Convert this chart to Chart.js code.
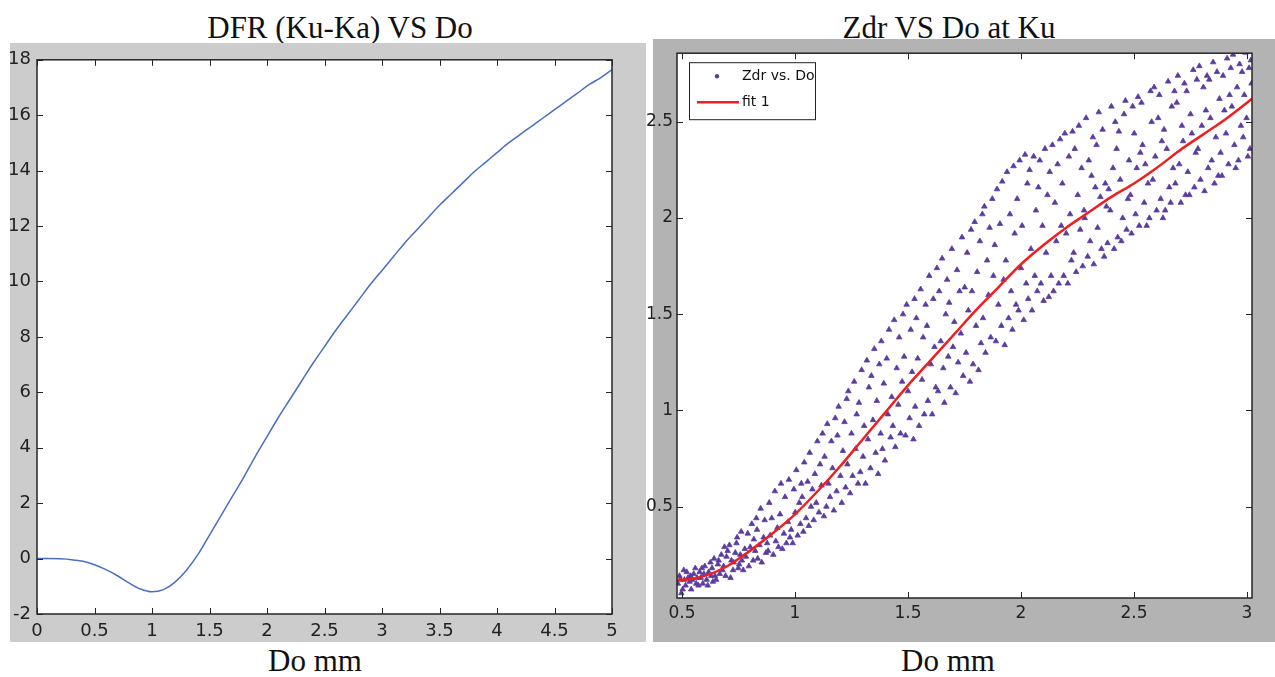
<html>
<head>
    <script src="https://cdn.jsdelivr.net/npm/chart.js@4.4.0/dist/chart.umd.min.js"></script>
    <style>
        body {
            margin: 0;
            background: #ffffff;
            width: 1275px;
            height: 677px;
            position: relative;
            overflow: hidden;
        }

        .titolo {
            position: absolute;
            font-family: 'Liberation Serif', 'Times New Roman', serif;
            font-size: 31px;
            line-height: 31px;
            color: #111;
            white-space: nowrap;
            transform: translateX(-50%);
        }

        .pannello {
            position: absolute;
        }

        .sinistra {
            left: 10px;
            top: 43px;
            width: 636px;
            height: 599px;
            background: #cccccc;
        }

        .destra {
            left: 653px;
            top: 39px;
            width: 622px;
            height: 603px;
            background: #b3b3b3;
        }

        #zdrChart {
            position: absolute;
            left: -10px;
            top: 0;
        }
    </style>
</head>

<body>
    <div class="titolo" style="left:340px; top:12px;">DFR (Ku-Ka) VS Do</div>
    <div class="titolo" style="left:949px; top:12px;">Zdr VS Do at Ku</div>

    <div class="pannello sinistra"><canvas id="dfrChart" width="636" height="599"></canvas></div>
    <div class="pannello destra"><canvas id="zdrChart" width="632" height="603"></canvas></div>

    <div class="titolo" style="left:315px; top:645px;">Do mm</div>
    <div class="titolo" style="left:948px; top:645px;">Do mm</div>
</body>
<script>
    // DFR (Ku-Ka) vs Do
    const dfrDo = [0, 0.1, 0.2, 0.3, 0.4, 0.5, 0.6, 0.7, 0.8, 0.9, 1.0, 1.1, 1.2, 1.3, 1.4, 1.5, 1.6, 1.7, 1.8, 1.9,
        2.0, 2.1, 2.2, 2.3, 2.4, 2.5, 2.6, 2.7, 2.8, 2.9, 3.0, 3.1, 3.2, 3.3, 3.4, 3.5, 3.6, 3.7, 3.8, 3.9,
        4.0, 4.1, 4.2, 4.3, 4.4, 4.5, 4.6, 4.7, 4.8, 4.9, 5.0];
    const dfrVal = [0, 0, -0.01, -0.04, -0.1, -0.22, -0.4, -0.62, -0.88, -1.1, -1.2, -1.12, -0.85, -0.42, 0.15, 0.85, 1.55, 2.25, 2.95, 3.7,
        4.4, 5.1, 5.75, 6.4, 7.05, 7.65, 8.25, 8.8, 9.35, 9.9, 10.4, 10.9, 11.4, 11.85, 12.3, 12.75, 13.15, 13.55, 13.95, 14.3,
        14.65, 15.0, 15.3, 15.6, 15.9, 16.2, 16.5, 16.8, 17.1, 17.35, 17.65];
    const dfrTickX = [0, 0.5, 1, 1.5, 2, 2.5, 3, 3.5, 4, 4.5, 5];
    const dfrTickY = [-2, 0, 2, 4, 6, 8, 10, 12, 14, 16, 18];

    // Zdr vs Do at Ku
    const zdrPunti = [
        [0.482,0.10],[0.497,0.05],[0.489,0.14],[0.511,0.12],[0.503,0.07],[0.521,0.16],[0.516,0.09],[0.527,0.13],[0.493,0.12],[0.508,0.17],
        [0.534,0.11],[0.552,0.15],[0.541,0.07],[0.567,0.13],[0.559,0.18],[0.546,0.12],[0.573,0.09],[0.578,0.16],[0.538,0.14],[0.563,0.10],
        [0.583,0.13],[0.601,0.19],[0.592,0.10],[0.618,0.16],[0.609,0.12],[0.626,0.21],[0.597,0.15],[0.614,0.09],[0.629,0.14],[0.588,0.18],
        [0.633,0.18],[0.651,0.12],[0.642,0.23],[0.667,0.15],[0.659,0.20],[0.674,0.25],[0.646,0.14],[0.679,0.17],[0.637,0.11],[0.662,0.22],
        [0.684,0.19],[0.702,0.27],[0.693,0.14],[0.719,0.22],[0.710,0.30],[0.726,0.17],[0.697,0.24],[0.715,0.13],[0.688,0.29],[0.729,0.21],
        [0.736,0.26],[0.749,0.18],[0.744,0.34],[0.765,0.22],[0.762,0.37],[0.778,0.28],[0.753,0.20],[0.771,0.17],[0.741,0.31],[0.758,0.25],
        [0.783,0.24],[0.791,0.36],[0.796,0.19],[0.802,0.29],[0.809,0.41],[0.815,0.22],[0.818,0.33],[0.824,0.27],[0.829,0.44],
        [0.832,0.38],[0.835,0.23],[0.843,0.30],[0.848,0.49],[0.853,0.21],[0.861,0.34],[0.866,0.43],[0.872,0.26],[0.877,0.31],
        [0.881,0.27],[0.886,0.52],[0.890,0.35],[0.897,0.44],[0.904,0.25],[0.911,0.58],[0.915,0.32],[0.922,0.39],[0.927,0.29],
        [0.934,0.46],[0.938,0.62],[0.944,0.28],[0.951,0.36],[0.956,0.55],[0.962,0.31],[0.969,0.42],[0.973,0.64],[0.978,0.34],
        [0.983,0.38],[0.990,0.31],[0.995,0.59],[1.001,0.47],[1.006,0.69],[1.012,0.35],[1.019,0.52],[1.024,0.41],[1.028,0.62],
        [1.032,0.55],[1.037,0.37],[1.041,0.73],[1.049,0.44],[1.056,0.63],[1.061,0.40],[1.065,0.78],[1.071,0.50],[1.077,0.59],
        [1.083,0.43],[1.088,0.67],[1.094,0.52],[1.099,0.84],[1.106,0.47],[1.111,0.72],[1.117,0.61],[1.122,0.88],[1.128,0.45],
        [1.131,0.76],[1.139,0.50],[1.143,0.93],[1.148,0.62],[1.155,0.55],[1.161,0.84],[1.166,0.70],[1.172,0.48],[1.178,0.96],
        [1.184,0.58],[1.188,0.87],[1.193,1.02],[1.201,0.66],[1.207,0.52],[1.212,0.79],[1.219,0.94],[1.224,0.60],[1.229,1.06],
        [1.232,0.72],[1.236,1.10],[1.244,0.57],[1.250,0.88],[1.255,0.66],[1.262,1.15],[1.268,0.80],[1.273,0.98],[1.279,0.62],
        [1.283,1.04],[1.289,0.68],[1.295,1.21],[1.301,0.76],[1.306,0.92],[1.312,0.62],[1.318,1.26],[1.323,0.85],[1.327,1.12],
        [1.334,0.70],[1.338,1.18],[1.345,0.95],[1.351,1.32],[1.357,0.78],[1.362,1.05],[1.368,0.67],[1.373,1.24],[1.379,0.88],
        [1.382,1.36],[1.387,0.80],[1.393,1.14],[1.398,0.74],[1.406,1.27],[1.411,0.98],[1.416,1.42],[1.423,0.86],[1.428,1.07],
        [1.433,0.92],[1.439,1.47],[1.444,0.81],[1.450,1.22],[1.457,1.03],[1.461,1.38],[1.467,0.88],[1.474,1.15],[1.478,1.50],
        [1.483,1.28],[1.489,0.87],[1.494,1.55],[1.500,1.10],[1.507,0.96],[1.512,1.42],[1.518,1.20],[1.524,0.85],[1.529,1.58],
        [1.532,1.02],[1.537,1.48],[1.543,1.27],[1.549,0.92],[1.556,1.63],[1.562,1.16],[1.567,1.38],[1.572,0.98],[1.578,1.55],
        [1.584,1.44],[1.588,1.05],[1.594,1.70],[1.601,1.24],[1.607,0.98],[1.612,1.58],[1.617,1.33],[1.623,1.12],[1.628,1.74],
        [1.633,1.10],[1.638,1.62],[1.645,1.36],[1.651,1.79],[1.656,1.22],[1.661,1.04],[1.667,1.50],[1.673,1.68],[1.678,1.28],
        [1.682,1.56],[1.688,1.12],[1.694,1.84],[1.699,1.33],[1.705,1.46],[1.711,1.09],[1.717,1.73],[1.722,1.25],[1.728,1.62],
        [1.734,1.40],[1.739,1.90],[1.744,1.18],[1.751,1.64],[1.757,1.30],[1.762,1.82],[1.767,1.52],[1.774,1.15],[1.779,1.94],
        [1.783,1.62],[1.788,1.24],[1.795,1.98],[1.801,1.44],[1.806,1.72],[1.812,1.21],[1.818,1.88],[1.823,1.35],[1.829,2.02],
        [1.832,1.48],[1.838,2.06],[1.843,1.30],[1.850,1.78],[1.856,1.60],[1.861,1.95],[1.866,1.38],[1.873,2.10],[1.878,1.70],
        [1.884,1.86],[1.889,1.36],[1.894,2.15],[1.900,1.55],[1.907,1.97],[1.913,1.44],[1.917,2.19],[1.923,1.68],[1.928,1.34],
        [1.933,1.78],[1.938,2.24],[1.945,1.48],[1.951,2.02],[1.956,1.62],[1.962,1.42],[1.967,2.27],[1.972,1.92],[1.978,1.55],
        [1.983,2.10],[1.989,1.52],[1.994,2.30],[2.000,1.74],[2.005,1.96],[2.012,1.47],[2.018,2.33],[2.023,1.66],[2.028,2.18],
        [2.032,1.58],[2.038,2.25],[2.044,1.84],[2.049,1.52],[2.056,2.32],[2.061,1.70],[2.066,2.04],[2.072,1.62],[2.077,2.16],
        [2.083,2.30],[2.088,1.66],[2.095,1.96],[2.100,1.57],[2.106,2.36],[2.111,1.82],[2.117,2.12],[2.123,1.59],[2.127,2.24],
        [2.133,1.70],[2.139,2.38],[2.144,1.62],[2.150,2.08],[2.156,1.88],[2.162,2.28],[2.167,1.66],[2.173,2.41],[2.178,1.96],
        [2.183,2.18],[2.189,1.70],[2.194,2.44],[2.200,1.92],[2.207,1.66],[2.212,2.32],[2.217,2.02],[2.223,1.78],[2.228,2.45],
        [2.233,1.82],[2.238,2.36],[2.244,1.72],[2.251,2.12],[2.256,2.48],[2.262,1.94],[2.268,2.26],[2.273,1.75],[2.279,2.04],
        [2.282,2.00],[2.288,2.52],[2.295,1.80],[2.300,2.30],[2.306,1.88],[2.312,2.22],[2.318,2.42],[2.322,1.76],[2.329,2.16],
        [2.334,2.38],[2.339,1.95],[2.344,2.55],[2.351,2.11],[2.356,1.84],[2.361,2.46],[2.368,1.80],[2.373,2.18],[2.378,2.06],
        [2.383,1.87],[2.388,2.15],[2.395,2.04],[2.400,2.58],[2.407,2.26],[2.412,1.84],[2.417,2.50],[2.423,2.36],[2.428,1.90],
        [2.433,2.45],[2.439,2.20],[2.444,1.88],[2.450,2.00],[2.456,2.54],[2.462,2.61],[2.467,1.94],[2.473,2.10],[2.478,2.30],
        [2.484,2.12],[2.489,1.92],[2.494,2.58],[2.501,2.44],[2.507,2.02],[2.512,2.26],[2.518,2.63],[2.523,1.96],[2.528,2.34],
        [2.533,2.60],[2.538,2.38],[2.545,2.08],[2.550,2.28],[2.556,1.96],[2.562,2.18],[2.568,2.00],[2.573,2.66],[2.578,2.50],
        [2.583,2.20],[2.589,2.68],[2.594,2.32],[2.600,2.04],[2.607,2.52],[2.612,2.64],[2.618,2.10],[2.623,2.40],[2.628,2.00],
        [2.633,2.46],[2.638,2.04],[2.645,2.36],[2.651,2.71],[2.656,2.16],[2.662,2.08],[2.667,2.58],[2.673,2.26],[2.679,2.66],
        [2.683,2.18],[2.689,2.60],[2.694,2.74],[2.700,2.28],[2.707,2.08],[2.712,2.48],[2.717,2.40],[2.723,2.70],[2.728,2.12],
        [2.733,2.66],[2.738,2.24],[2.745,2.12],[2.750,2.54],[2.756,2.44],[2.762,2.77],[2.767,2.16],[2.773,2.34],[2.778,2.72],
        [2.783,2.36],[2.789,2.79],[2.794,2.20],[2.800,2.48],[2.807,2.68],[2.812,2.14],[2.818,2.56],[2.823,2.74],[2.828,2.26],
        [2.833,2.72],[2.838,2.52],[2.844,2.30],[2.850,2.81],[2.856,2.18],[2.862,2.42],[2.867,2.76],[2.873,2.22],[2.878,2.62],
        [2.883,2.34],[2.889,2.22],[2.894,2.74],[2.900,2.56],[2.907,2.44],[2.912,2.83],[2.918,2.28],[2.923,2.64],[2.928,2.78],
        [2.933,2.58],[2.938,2.85],[2.944,2.38],[2.950,2.26],[2.956,2.68],[2.962,2.30],[2.967,2.80],[2.973,2.48],[2.978,2.76],
        [2.983,2.42],[2.988,2.64],[2.993,2.86],[2.998,2.52],[3.004,2.32],[3.009,2.78],[3.013,2.36],[3.017,2.82],[3.020,2.70]
    ];
    const fitDo = [0.478, 0.5, 0.6, 0.7, 0.8, 0.9, 1.0, 1.1, 1.2, 1.3, 1.4, 1.5, 1.6, 1.7, 1.8, 1.9,
        2.0, 2.1, 2.2, 2.3, 2.4, 2.5, 2.6, 2.7, 2.8, 2.9, 3.0, 3.022];
    const fitZdr = [0.12, 0.12, 0.14, 0.19, 0.27, 0.36, 0.46, 0.58, 0.71, 0.85, 0.99, 1.13, 1.26, 1.39, 1.52, 1.64,
        1.76, 1.86, 1.95, 2.03, 2.11, 2.18, 2.26, 2.35, 2.43, 2.51, 2.60, 2.62];
    const zdrTickX = [0.5, 1, 1.5, 2, 2.5, 3];
    const zdrTickY = [0.5, 1, 1.5, 2, 2.5];

    const fontTick = "'DejaVu Sans', 'Liberation Sans', sans-serif";

    // sfondo bianco dell'area del grafico + cornice con tacche verso l'interno (stile matlab)
    const cornice = {
        id: 'cornice',
        beforeDraw(chart) {
            const a = chart.chartArea;
            const ctx = chart.ctx;
            ctx.save();
            ctx.fillStyle = '#ffffff';
            ctx.fillRect(a.left, a.top, a.right - a.left, a.bottom - a.top);
            ctx.restore();
        },
        afterDraw(chart) {
            const a = chart.chartArea;
            const ctx = chart.ctx;
            const lung = 6;
            ctx.save();
            ctx.strokeStyle = '#262626';
            ctx.lineWidth = 1;
            ctx.beginPath();
            chart.scales.x.ticks.forEach(t => {
                const px = Math.round(chart.scales.x.getPixelForValue(t.value)) + 0.5;
                ctx.moveTo(px, a.bottom); ctx.lineTo(px, a.bottom - lung);
                ctx.moveTo(px, a.top); ctx.lineTo(px, a.top + lung);
            });
            chart.scales.y.ticks.forEach(t => {
                const py = Math.round(chart.scales.y.getPixelForValue(t.value)) + 0.5;
                ctx.moveTo(a.left, py); ctx.lineTo(a.left + lung, py);
                ctx.moveTo(a.right, py); ctx.lineTo(a.right - lung, py);
            });
            ctx.stroke();
            ctx.lineWidth = 1.5;
            ctx.strokeRect(a.left, a.top, a.right - a.left, a.bottom - a.top);
            ctx.restore();
        }
    };

    // legenda dentro l'area, in alto a sinistra, con bordo nero
    const legendaInterna = {
        id: 'legendaInterna',
        afterDraw(chart) {
            const a = chart.chartArea;
            const ctx = chart.ctx;
            const ds = chart.data.datasets;
            const x0 = a.left + 12, y0 = a.top + 9, w = 126, h = 57;
            ctx.save();
            ctx.fillStyle = '#ffffff';
            ctx.fillRect(x0, y0, w, h);
            ctx.strokeStyle = '#222';
            ctx.lineWidth = 1;
            ctx.strokeRect(x0 + 0.5, y0 + 0.5, w, h);
            ctx.font = "14px " + fontTick;
            ctx.textBaseline = 'middle';
            // punto
            ctx.fillStyle = ds[0].backgroundColor;
            ctx.beginPath();
            ctx.arc(x0 + 28, y0 + 14, 2.2, 0, Math.PI * 2);
            ctx.fill();
            ctx.fillStyle = '#111';
            ctx.fillText(ds[0].label, x0 + 53, y0 + 14);
            // linea
            ctx.strokeStyle = ds[1].borderColor;
            ctx.lineWidth = 2.5;
            ctx.beginPath();
            ctx.moveTo(x0 + 8, y0 + 40);
            ctx.lineTo(x0 + 50, y0 + 40);
            ctx.stroke();
            ctx.fillText(ds[1].label, x0 + 53, y0 + 40);
            ctx.restore();
        }
    };

    function asse(min, max, valori, dim, padding, fontSize, larghezza) {
        return {
            type: 'linear',
            min: min,
            max: max,
            grid: { display: false, drawTicks: false },
            border: { display: false },
            ticks: {
                color: '#222',
                padding: padding,
                font: { family: fontTick, size: fontSize },
                callback: v => String(v)
            },
            afterBuildTicks: s => { s.ticks = valori.map(v => ({ value: v })); },
            afterFit: s => {
                if (dim === 'w') s.width = larghezza;
                else s.height = larghezza;
            }
        };
    }

    function creaDfr() {
        const punti = dfrDo.map((x, i) => ({ x: x, y: dfrVal[i] }));
        return new Chart('dfrChart', {
            type: 'scatter',
            data: {
                datasets: [{
                    label: 'DFR',
                    data: punti,
                    showLine: true,
                    borderColor: '#4a6ec6',
                    borderWidth: 1.5,
                    pointRadius: 0,
                    cubicInterpolationMode: 'monotone'
                }]
            },
            options: {
                responsive: false,
                animation: false,
                devicePixelRatio: 1,
                layout: { padding: { top: 15, right: 34, left: 0, bottom: 0 } },
                plugins: { legend: { display: false }, tooltip: { enabled: false } },
                scales: {
                    x: asse(0, 5, dfrTickX, 'h', 7, 18, 28),
                    y: asse(-2, 18, dfrTickY, 'w', 6, 18, 27)
                }
            },
            plugins: [cornice]
        });
    }

    function creaZdr() {
        const punti = zdrPunti.map(p => ({ x: p[0], y: p[1] }));
        const fit = fitDo.map((x, i) => ({ x: x, y: fitZdr[i] }));
        return new Chart('zdrChart', {
            type: 'scatter',
            data: {
                datasets: [{
                    label: 'Zdr vs. Do',
                    data: punti,
                    backgroundColor: '#5a3c9e',
                    borderColor: '#5a3c9e',
                    pointStyle: 'triangle',
                    pointRadius: 3.2,
                    borderWidth: 0.8,
                    order: 2
                }, {
                    label: 'fit 1',
                    data: fit,
                    showLine: true,
                    borderColor: '#f01e1e',
                    borderWidth: 2.5,
                    pointRadius: 0,
                    cubicInterpolationMode: 'monotone',
                    order: 1
                }]
            },
            options: {
                responsive: false,
                animation: false,
                devicePixelRatio: 1,
                layout: { padding: { top: 11, right: 23, left: 0, bottom: 0 } },
                plugins: { legend: { display: false }, tooltip: { enabled: false } },
                scales: {
                    x: asse(0.478, 3.022, zdrTickX, 'h', 5, 17, 44),
                    y: asse(0.025, 2.857, zdrTickY, 'w', 4, 17, 34)
                }
            },
            plugins: [cornice, legendaInterna]
        });
    }

    creaDfr();
    creaZdr();
</script>

</html>
